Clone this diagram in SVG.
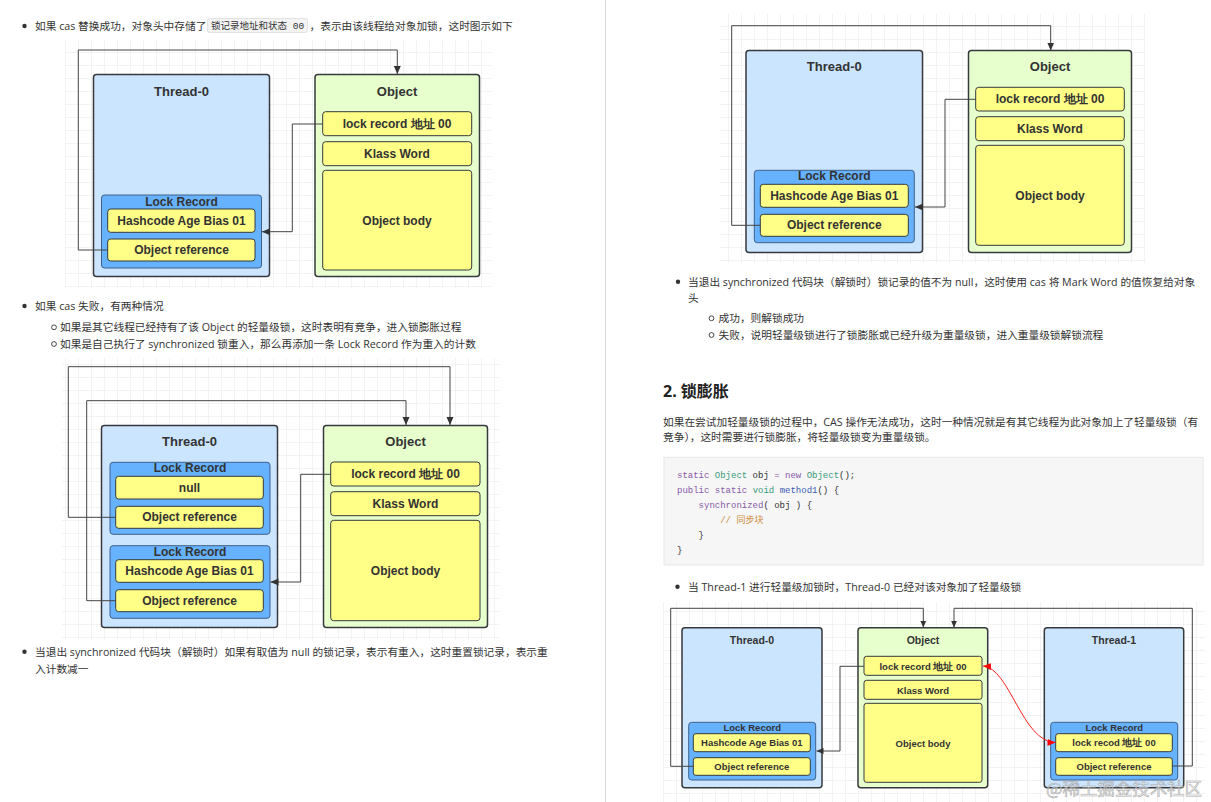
<svg xmlns="http://www.w3.org/2000/svg" width="1211" height="802" viewBox="0 0 1211 802">
<defs>
<pattern id="grid" width="13" height="13" patternUnits="userSpaceOnUse"><path d="M13 0H0V13" fill="none" stroke="#e8e8e8" stroke-width="1"/></pattern>
<marker id="arr" markerUnits="userSpaceOnUse" markerWidth="8" markerHeight="8" viewBox="0 0 8 8" refX="8" refY="4" orient="auto"><path d="M0,0.5 L8,4 L0,7.5 z" fill="#333"/></marker>
<marker id="arrS" markerUnits="userSpaceOnUse" markerWidth="7" markerHeight="7" viewBox="0 0 8 8" refX="8" refY="4" orient="auto"><path d="M0,0.5 L8,4 L0,7.5 z" fill="#333"/></marker>
<marker id="arrR" markerUnits="userSpaceOnUse" markerWidth="8" markerHeight="8" viewBox="0 0 8 8" refX="8" refY="4" orient="auto-start-reverse"><path d="M0,0.5 L8,4 L0,7.5 z" fill="#f00"/></marker>
<style>
.bg{fill:url(#grid)}
.thread{fill:#cce5ff;stroke:#36393d;stroke-width:1.5}
.object{fill:#e6ffcc;stroke:#36393d;stroke-width:1.5}
.lr{fill:#66b2ff;stroke:#3f6189;stroke-width:1}
.cell{fill:#ffff88;stroke:#36393d;stroke-width:1}
.t{font-family:"Liberation Sans",Arial,sans-serif;font-weight:bold;fill:#333;text-anchor:middle;dominant-baseline:central}
.h{font-size:13px}
.c{font-size:12px}
.hs{font-size:10.5px}
.cs{font-size:9.5px}
.conn{fill:none;stroke:#444;stroke-width:1}
.red{fill:none;stroke:#f22;stroke-width:1}
.p{font-family:"Open Sans","Noto Sans CJK SC",sans-serif;font-size:10.7px;fill:#333;dominant-baseline:central}
.dot{fill:#333}
.ring{fill:none;stroke:#333;stroke-width:0.9}
.code{font-family:"Liberation Mono","Noto Sans CJK SC",monospace;font-size:9px;fill:#333}
.kw{fill:#8959a8}.ty{fill:#3a9a7a}.fn{fill:#3b5bb5}.cm{fill:#d08b3a}
</style>
</defs>
<rect width="1211" height="802" fill="#fff"/>
<line x1="605.5" y1="0" x2="605.5" y2="802" stroke="#d9d9d9" stroke-width="1"/>

<!-- grids -->
<rect class="bg" x="65" y="40" width="427" height="248"/>
<rect class="bg" x="62" y="358" width="438" height="282"/>
<rect class="bg" x="720" y="14" width="425" height="249"/>
<rect class="bg" x="663" y="602" width="542" height="200"/>

<!-- left column text -->
<g id="text-left">
<circle class="dot" cx="24.5" cy="26" r="2.2"/>
<text class="p" x="35" y="26">如果 cas 替换成功，对象头中存储了</text>
<rect x="207.5" y="18.5" width="100" height="14" rx="2" fill="#f3f3f3" stroke="#dcdcdc" stroke-width="0.8"/>
<text class="code" x="211" y="26" style="font-size:9.5px;dominant-baseline:central">锁记录地址和状态 00</text>
<text class="p" x="309.5" y="26">，表示由该线程给对象加锁，这时图示如下</text>
<circle class="dot" cx="24.5" cy="306" r="2.2"/>
<text class="p" x="35" y="306">如果 cas 失败，有两种情况</text>
<circle class="ring" cx="54" cy="327.3" r="2.4"/>
<text class="p" x="60" y="327.3">如果是其它线程已经持有了该 Object 的轻量级锁，这时表明有竞争，进入锁膨胀过程</text>
<circle class="ring" cx="54" cy="344" r="2.4"/>
<text class="p" x="60" y="344">如果是自己执行了 synchronized 锁重入，那么再添加一条 Lock Record 作为重入的计数</text>
<circle class="dot" cx="24.5" cy="651.7" r="2.2"/>
<text class="p" x="35" y="651.7">当退出 synchronized 代码块（解锁时）如果有取值为 null 的锁记录，表示有重入，这时重置锁记录，表示重</text>
<text class="p" x="35" y="669">入计数减一</text>
</g>

<!-- right column text -->
<g id="text-right">
<circle class="dot" cx="678" cy="281.7" r="2.2"/>
<text class="p" x="688" y="281.7">当退出 synchronized 代码块（解锁时）锁记录的值不为 null，这时使用 cas 将 Mark Word 的值恢复给对象</text>
<text class="p" x="688" y="298.3">头</text>
<circle class="ring" cx="711.5" cy="318.3" r="2.4"/>
<text class="p" x="718.5" y="318.3">成功，则解锁成功</text>
<circle class="ring" cx="711.5" cy="335" r="2.4"/>
<text class="p" x="718.5" y="335">失败，说明轻量级锁进行了锁膨胀或已经升级为重量级锁，进入重量级锁解锁流程</text>
<text x="663" y="390.7" style="font-family:'Open Sans','Noto Sans CJK SC',sans-serif;font-size:16px;font-weight:bold;fill:#222;dominant-baseline:central">2. 锁膨胀</text>
<text class="p" x="663" y="421.7">如果在尝试加轻量级锁的过程中，CAS 操作无法成功，这时一种情况就是有其它线程为此对象加上了轻量级锁（有</text>
<text class="p" x="663" y="436.7">竞争），这时需要进行锁膨胀，将轻量级锁变为重量级锁。</text>
<rect x="664" y="457.3" width="539" height="107.7" fill="#f6f6f6" stroke="#e6e6e6" stroke-width="1"/>
<text class="code" x="677" y="478" xml:space="preserve"><tspan class="kw">static</tspan> <tspan class="ty">Object</tspan> obj <tspan class="kw">=</tspan> <tspan class="kw">new</tspan> <tspan class="ty">Object</tspan>();</text>
<text class="code" x="677" y="493" xml:space="preserve"><tspan class="kw">public</tspan> <tspan class="kw">static</tspan> <tspan class="ty">void</tspan> <tspan class="fn">method1</tspan>() {</text>
<text class="code" x="677" y="508" xml:space="preserve">    <tspan class="kw">synchronized</tspan>( obj ) {</text>
<text class="code" x="677" y="523" xml:space="preserve">        <tspan class="cm">// 同步块</tspan></text>
<text class="code" x="677" y="538" xml:space="preserve">    }</text>
<text class="code" x="677" y="553">}</text>
<circle class="dot" cx="677.5" cy="586.7" r="2.2"/>
<text class="p" x="688" y="586.7">当 Thread-1 进行轻量级加锁时，Thread-0 已经对该对象加了轻量级锁</text>
</g>

<!-- Diagram 1 -->
<g id="d1-thread0">
<rect class="thread" x="93.5" y="74.5" width="176" height="202" rx="3"/>
<text class="t h" x="181.5" y="91">Thread-0</text>
</g>
<g id="d1-lockrecord">
<rect class="lr" x="101.5" y="195" width="160" height="73" rx="3"/>
<text class="t c" x="181.5" y="201.5">Lock Record</text>
<rect class="cell" x="107.7" y="209" width="147.3" height="23.3" rx="3"/>
<text class="t c" x="181.5" y="220.7">Hashcode Age Bias 01</text>
<rect class="cell" x="107.7" y="239" width="147.3" height="22" rx="3"/>
<text class="t c" x="181.5" y="250">Object reference</text>
</g>
<g id="d1-object">
<rect class="object" x="315" y="74.5" width="164.5" height="202" rx="3"/>
<text class="t h" x="397" y="91">Object</text>
<rect class="cell" x="322.7" y="111.7" width="149" height="24" rx="3"/>
<text class="t c" x="397" y="124">lock record 地址 00</text>
<rect class="cell" x="322.7" y="141.7" width="149" height="24" rx="3"/>
<text class="t c" x="397" y="154">Klass Word</text>
<rect class="cell" x="322.7" y="170.3" width="149" height="99.7" rx="3"/>
<text class="t c" x="397" y="221">Object body</text>
</g>

<!-- Diagram 2 -->
<g id="d2-thread0">
<rect class="thread" x="101.5" y="425.5" width="176" height="202" rx="3"/>
<text class="t h" x="189.5" y="441.7">Thread-0</text>
</g>
<g id="d2-lockrecord1">
<rect class="lr" x="110" y="462.3" width="160" height="72" rx="3"/>
<text class="t c" x="190" y="468.3">Lock Record</text>
<rect class="cell" x="115.7" y="476.3" width="147.6" height="22.7" rx="3"/>
<text class="t c" x="189.5" y="488">null</text>
<rect class="cell" x="115.7" y="506.3" width="147.6" height="22" rx="3"/>
<text class="t c" x="189.5" y="517.3">Object reference</text>
</g>
<g id="d2-lockrecord2">
<rect class="lr" x="110" y="545.7" width="160" height="72.6" rx="3"/>
<text class="t c" x="190" y="551.7">Lock Record</text>
<rect class="cell" x="115.7" y="559.7" width="147.6" height="22.6" rx="3"/>
<text class="t c" x="189.5" y="571">Hashcode Age Bias 01</text>
<rect class="cell" x="115.7" y="589.7" width="147.6" height="22" rx="3"/>
<text class="t c" x="189.5" y="600.7">Object reference</text>
</g>
<g id="d2-object">
<rect class="object" x="323.5" y="425.5" width="164" height="202" rx="3"/>
<text class="t h" x="405.5" y="441.7">Object</text>
<rect class="cell" x="330.7" y="462" width="149.3" height="24" rx="3"/>
<text class="t c" x="405.5" y="474">lock record 地址 00</text>
<rect class="cell" x="330.7" y="491.7" width="149.3" height="24" rx="3"/>
<text class="t c" x="405.5" y="503.7">Klass Word</text>
<rect class="cell" x="330.7" y="520.3" width="149.3" height="100.4" rx="3"/>
<text class="t c" x="405.5" y="571">Object body</text>
</g>

<!-- Diagram 3 -->
<g id="d3-thread0">
<rect class="thread" x="746" y="50.5" width="176.5" height="202" rx="3"/>
<text class="t h" x="834.3" y="66.7">Thread-0</text>
</g>
<g id="d3-lockrecord">
<rect class="lr" x="754.3" y="170.3" width="160" height="72.4" rx="3"/>
<text class="t c" x="834.3" y="176.3">Lock Record</text>
<rect class="cell" x="760.3" y="184.3" width="148" height="23" rx="3"/>
<text class="t c" x="834.3" y="196">Hashcode Age Bias 01</text>
<rect class="cell" x="760.3" y="214.3" width="148" height="22" rx="3"/>
<text class="t c" x="834.3" y="225.3">Object reference</text>
</g>
<g id="d3-object">
<rect class="object" x="968.5" y="50.5" width="163" height="202" rx="3"/>
<text class="t h" x="1050" y="66.7">Object</text>
<rect class="cell" x="975.7" y="87.3" width="148.6" height="23.7" rx="3"/>
<text class="t c" x="1050" y="99.3">lock record 地址 00</text>
<rect class="cell" x="975.7" y="116.7" width="148.6" height="24" rx="3"/>
<text class="t c" x="1050" y="128.7">Klass Word</text>
<rect class="cell" x="975.7" y="145.3" width="148.6" height="100" rx="3"/>
<text class="t c" x="1050" y="196">Object body</text>
</g>

<!-- Diagram 4 -->
<g id="d4-thread0">
<rect class="thread" x="682" y="627.7" width="140" height="160" rx="3"/>
<text class="t hs" x="752" y="640">Thread-0</text>
</g>
<g id="d4-lockrecord0">
<rect class="lr" x="688.7" y="722.3" width="127" height="57.7" rx="3"/>
<text class="t cs" x="752.2" y="727.9">Lock Record</text>
<rect class="cell" x="693.3" y="733.7" width="117" height="18" rx="2.5"/>
<text class="t cs" x="751.8" y="742.7">Hashcode Age Bias 01</text>
<rect class="cell" x="693.3" y="757.7" width="117" height="17.6" rx="2.5"/>
<text class="t cs" x="751.8" y="766.5">Object reference</text>
</g>
<g id="d4-object">
<rect class="object" x="858" y="627.7" width="129.7" height="160" rx="3"/>
<text class="t hs" x="923" y="640">Object</text>
<rect class="cell" x="864" y="656.3" width="118" height="19" rx="2.5"/>
<text class="t cs" x="923" y="666">lock record 地址 00</text>
<rect class="cell" x="864" y="680.3" width="118" height="19" rx="2.5"/>
<text class="t cs" x="923" y="690">Klass Word</text>
<rect class="cell" x="864" y="703.3" width="118" height="79" rx="2.5"/>
<text class="t cs" x="923" y="743">Object body</text>
</g>
<g id="d4-thread1">
<rect class="thread" x="1044.3" y="627.7" width="139.4" height="160" rx="3"/>
<text class="t hs" x="1114" y="640">Thread-1</text>
</g>
<g id="d4-lockrecord1">
<rect class="lr" x="1050.7" y="722.3" width="127" height="57.7" rx="3"/>
<text class="t cs" x="1114.2" y="727.9">Lock Record</text>
<rect class="cell" x="1055.7" y="733.7" width="116.6" height="18" rx="2.5"/>
<text class="t cs" x="1114" y="742.7">lock recod 地址 00</text>
<rect class="cell" x="1055.7" y="757.7" width="116.6" height="17.6" rx="2.5"/>
<text class="t cs" x="1114" y="766.5">Object reference</text>
</g>

<!-- connectors -->
<g id="connectors">
<path class="conn" d="M107.7,250 H78.3 V50 H397.3 V74" marker-end="url(#arr)"/>
<path class="conn" d="M322.7,124 H292.3 V231.7 H262" marker-end="url(#arr)"/>
<path class="conn" d="M115.7,517.3 H68.3 V366.7 H450 V425" marker-end="url(#arr)"/>
<path class="conn" d="M115.7,600.7 H86.7 V400.7 H406 V425" marker-end="url(#arr)"/>
<path class="conn" d="M330.7,474.3 H300.7 V582 H270.5" marker-end="url(#arr)"/>
<path class="conn" d="M760.3,225.3 H731.7 V25.7 H1050.7 V50.5" marker-end="url(#arr)"/>
<path class="conn" d="M975.7,99.3 H945 V207 H915" marker-end="url(#arr)"/>
<path class="conn" d="M693.3,766.3 H670.7 V608.3 H923.3 V627.5" marker-end="url(#arrS)"/>
<path class="conn" d="M864,666.3 H840 V751 H816.5" marker-end="url(#arrS)"/>
<path class="conn" d="M1172.3,766 H1192.3 V608.3 H954 V627.5" marker-end="url(#arrS)"/>
<path class="red" d="M983,666 C1010,668 1022,742 1055.5,742.5" marker-start="url(#arrR)" marker-end="url(#arrR)"/>
</g>

<text x="1046" y="795" textLength="156" lengthAdjust="spacingAndGlyphs" style="font-family:'Noto Sans CJK SC',sans-serif;font-size:17px;fill:#eeeeee;fill-opacity:0.6;stroke:#9a9a9a;stroke-width:0.6;stroke-opacity:0.8">@稀土掘金技术社区</text>
</svg>
